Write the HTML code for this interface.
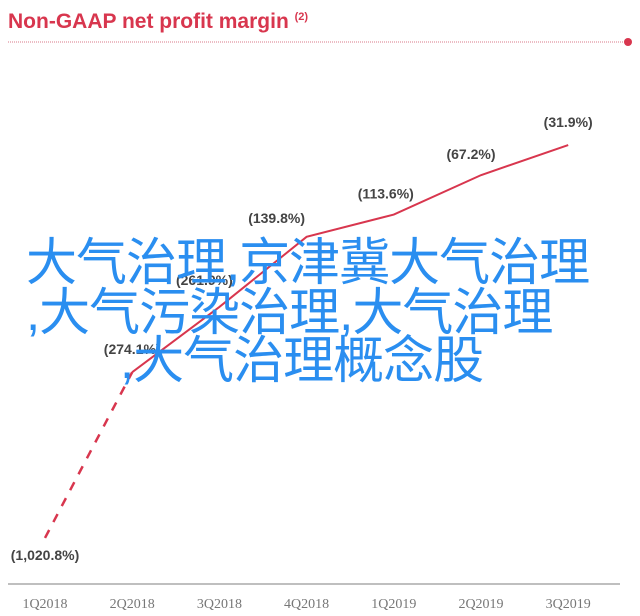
<!DOCTYPE html>
<html><head><meta charset="utf-8"><style>
body{margin:0;background:#fff;width:640px;height:616px;overflow:hidden;position:relative;font-family:"Liberation Sans",sans-serif}
.wm{position:absolute;color:#2a8ef0;font-family:"Liberation Sans","Noto Sans CJK SC",sans-serif;font-size:51px;line-height:50px;white-space:nowrap;letter-spacing:-1px}
</style></head><body>
<svg width="640" height="616" style="position:absolute;left:0;top:0">
<text x="8" y="28" font-size="21" font-weight="bold" fill="#d8364e">Non-GAAP net profit margin <tspan font-size="11" dy="-8">(2)</tspan></text>
<line x1="8" y1="42" x2="624" y2="42" stroke="#d87a88" stroke-width="1" stroke-dasharray="1,1"/>
<circle cx="628" cy="42" r="4" fill="#d8364e"/>
<line x1="8" y1="584" x2="620" y2="584" stroke="#aaa" stroke-width="1.5"/>
<g id="marks"></g>
</svg>
<div class="wm" style="left:26px;top:238px">大气治理,京津冀大气治理</div>
<div class="wm" style="left:26px;top:288px">,大气污染治理,大气治理</div>
<div class="wm" style="left:120px;top:336px">,大气治理概念股</div>
<script>
const categories=["1Q2018","2Q2018","3Q2018","4Q2018","1Q2019","2Q2019","3Q2019"];
const values=[-1020.8,-274.1,-261.9,-139.8,-113.6,-67.2,-31.9];
const labels=["(1,020.8%)","(274.1%)","(261.9%)","(139.8%)","(113.6%)","(67.2%)","(31.9%)"];
const NS="http://www.w3.org/2000/svg";
const g=document.getElementById('marks');
function xScale(i){return 45+i*87.2;}
const dom=[0,140,262,275,1021],rng=[118,237,307,377,538];
function yScale(v){const a=Math.abs(v);for(let k=1;k<dom.length;k++){if(a<=dom[k]||k===dom.length-1){const t=(a-dom[k-1])/(dom[k]-dom[k-1]);return rng[k-1]+t*(rng[k]-rng[k-1]);}}}
function mk(t,attrs){const e=document.createElementNS(NS,t);for(const k in attrs)e.setAttribute(k,attrs[k]);g.appendChild(e);return e;}
const pts=values.map((v,i)=>[xScale(i),yScale(v)]);
const d1=mk('line',{x1:pts[0][0],y1:pts[0][1],x2:pts[1][0],y2:pts[1][1],stroke:'#d8364e','stroke-width':2.5,'stroke-dasharray':'9,9'});


const pl=mk('polyline',{points:pts.slice(1).map(p=>p.join(',')).join(' '),fill:'none',stroke:'#d8364e','stroke-width':2});


const lo=[[0,22],[0,-18],[-15,-22],[-30,-14],[-8,-16],[-10,-16],[0,-18]];
labels.forEach((s,i)=>{
 const t=mk('text',{x:pts[i][0]+lo[i][0],y:pts[i][1]+lo[i][1],'text-anchor':'middle','font-size':14,'font-weight':'bold',fill:'#444'});
 t.textContent=s;
 
 
});
categories.forEach((c,i)=>{
 const t=mk('text',{x:xScale(i),y:608,'text-anchor':'middle','font-size':14,fill:'#777','font-family':'Liberation Serif,serif'});
 t.textContent=c;
 
 
});
</script>
</body></html>
